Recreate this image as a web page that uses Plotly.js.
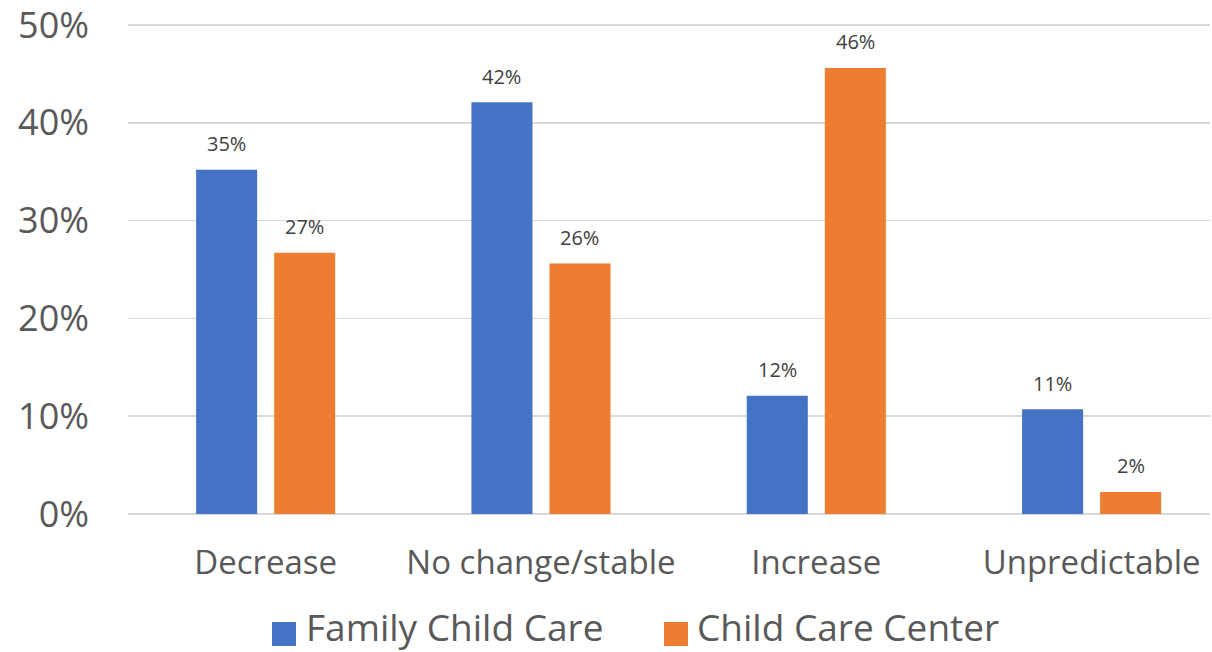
<!DOCTYPE html>
<html>
<head>
<meta charset="utf-8">
<script src="https://cdn.plot.ly/plotly-3.0.1.min.js"></script>
<style>html,body{margin:0;padding:0;background:#fff;}#chart{width:1212px;height:652px;}</style>
</head>
<body>
<div id="chart"></div>
<script>
const categories = ["Decrease", "No change/stable", "Increase", "Unpredictable"];
const seriesNames = ["Family Child Care", "Child Care Center"];
const familyValues = [35.2, 42.1, 12.1, 10.7];
const centerValues = [26.7, 25.6, 45.6, 2.25];
const familyLabels = ["35%", "42%", "12%", "11%"];
const centerLabels = ["27%", "26%", "46%", "2%"];
const yTickVals = [0, 10, 20, 30, 40, 50];
const yTickText = ["0%", "10%", "20%", "30%", "40%", "50%"];

const W = 1212, H = 652;
const L = 128, R = 2, T = 23, B = 138;
const pw = W - L - R, ph = H - T - B;
const px2x = p => (p - L) / pw;
const py2y = p => (H - B - p) / ph;

const blue = "#4472C4", orange = "#ED7D31";
const font = "Open Sans, Segoe UI, sans-serif";

const traces = [
  {type: "bar", name: seriesNames[0], x: categories, y: familyValues, marker: {color: blue}, hoverinfo: "none"},
  {type: "bar", name: seriesNames[1], x: categories, y: centerValues, marker: {color: orange}, hoverinfo: "none"}
];

const annotations = [];
categories.forEach((c, i) => {
  annotations.push({x: c, y: familyValues[i], xref: "x", yref: "y", text: familyLabels[i], showarrow: false,
    xshift: -39, yshift: 26, font: {family: font, size: 20, color: "#404040"}});
  annotations.push({x: c, y: centerValues[i], xref: "x", yref: "y", text: centerLabels[i], showarrow: false,
    xshift: 39, yshift: 26, font: {family: font, size: 20, color: "#404040"}});
});

const legendItems = [
  {sx: 272, tx: 304, color: blue, text: seriesNames[0]},
  {sx: 664, tx: 695, color: orange, text: seriesNames[1]}
];
const shapes = [];
legendItems.forEach(it => {
  shapes.push({type: "rect", xref: "paper", yref: "paper",
    x0: px2x(it.sx), x1: px2x(it.sx + 24), y0: py2y(646), y1: py2y(622),
    fillcolor: it.color, line: {width: 0}});
  annotations.push({xref: "paper", yref: "paper", x: px2x(it.tx), y: py2y(626.5), xanchor: "left", yanchor: "middle",
    text: it.text, showarrow: false, font: {family: font, size: 37, color: "#595959"}});
});

const layout = {
  width: W, height: H,
  margin: {l: L, r: R, t: T, b: B, pad: 0},
  paper_bgcolor: "#fff", plot_bgcolor: "#fff",
  showlegend: false,
  barmode: "group",
  bargap: 0.433,
  bargroupgap: 0.218,
  xaxis: {
    type: "category", range: [-0.5, 3.43], showgrid: false, zeroline: false,
    showline: false, ticks: "", tickfont: {family: font, size: 33, color: "#595959"},
    ticklabelstandoff: 26, fixedrange: true
  },
  yaxis: {
    range: [0, 50.2], tickvals: yTickVals, ticktext: yTickText,
    showgrid: true, gridcolor: "#d9d9d9", gridwidth: 1.5,
    zeroline: true, zerolinecolor: "#d9d9d9", zerolinewidth: 1.5,
    showline: false, ticks: "", tickfont: {family: font, size: 36, color: "#595959"},
    ticklabelstandoff: 38, ticklabeloverflow: "allow", fixedrange: true
  },
  annotations: annotations,
  shapes: shapes
};

Plotly.newPlot("chart", traces, layout, {displayModeBar: false, staticPlot: true});
</script>
</body>
</html>
